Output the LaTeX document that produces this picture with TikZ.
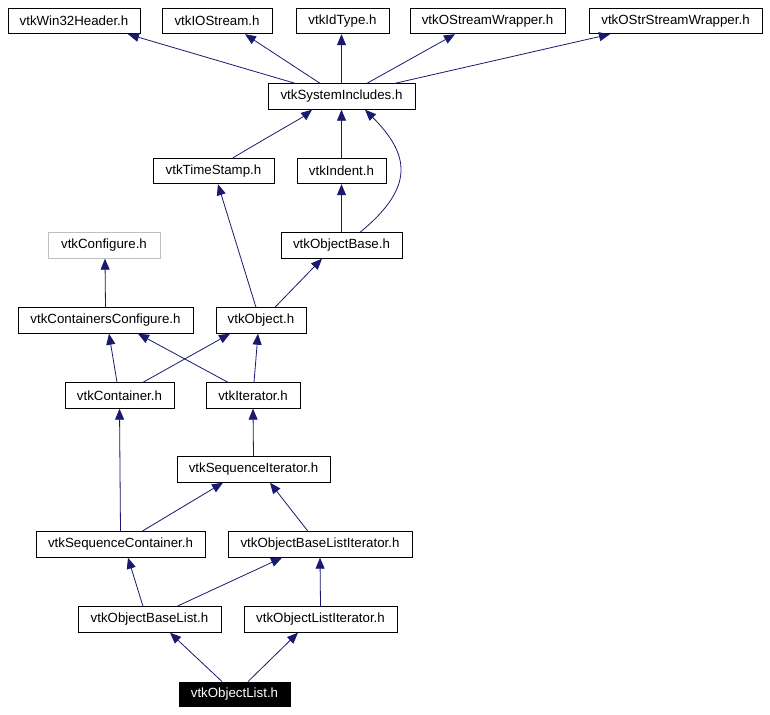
\documentclass[tikz,border=0pt]{standalone}
\usepackage{fontspec}
\setmainfont{Liberation Sans}
\usetikzlibrary{arrows.meta}
\definecolor{edgeblue}{HTML}{191970}
\definecolor{greyborder}{HTML}{BFBFBF}
\begin{document}
\begin{tikzpicture}[x=1pt,y=-1pt,
  filebox/.style={draw=black,line width=0.9pt,fill=white,inner sep=0pt,minimum height=25.5pt,
    font=\fontsize{13.3}{15}\selectfont,text=black},
  greybox/.style={filebox,draw=greyborder},
  mainbox/.style={filebox,fill=black,text=white},
  dep/.style={draw=edgeblue,line width=0.8pt,-{Triangle[length=11pt,width=9pt,fill=edgeblue]}},
  every node/.append style={anchor=center}]
\useasboundingbox (0,0) rectangle (770,714);
% row 1
\node[filebox,minimum width=132pt] (win32) at (74,21) {vtkWin32Header.h};
\node[filebox,minimum width=110pt] (iostream) at (217,21) {vtkIOStream.h};
\node[filebox,minimum width=93pt] (idtype) at (342.5,21) {vtkIdType.h};
\node[filebox,minimum width=155pt] (ostream) at (487.5,21) {vtkOStreamWrapper.h};
\node[filebox,minimum width=173pt] (ostrstream) at (675.5,21) {vtkOStrStreamWrapper.h};
% row 2
\node[filebox,minimum width=147pt] (sysinc) at (341.5,96.5) {vtkSystemIncludes.h};
% row 3
\node[filebox,minimum width=121pt] (timestamp) at (213.5,171) {vtkTimeStamp.h};
\node[filebox,minimum width=89pt] (indent) at (341.5,171) {vtkIndent.h};
% row 4
\node[greybox,minimum width=112pt] (configure) at (104,245.5) {vtkConfigure.h};
\node[filebox,minimum width=121pt] (objectbase) at (341.5,245.5) {vtkObjectBase.h};
% row 5
\node[filebox,minimum width=175pt] (contconf) at (105.5,320.5) {vtkContainersConfigure.h};
\node[filebox,minimum width=90pt] (object) at (261,320.5) {vtkObject.h};
% row 6
\node[filebox,minimum width=109pt] (container) at (119.5,395.5) {vtkContainer.h};
\node[filebox,minimum width=94pt] (iterator) at (253,395.5) {vtkIterator.h};
% row 7
\node[filebox,minimum width=153pt] (seqiter) at (253.5,469.5) {vtkSequenceIterator.h};
% row 8
\node[filebox,minimum width=169pt] (seqcont) at (120.5,544.5) {vtkSequenceContainer.h};
\node[filebox,minimum width=184pt] (oblistiter) at (320,544.5) {vtkObjectBaseListIterator.h};
% row 9
\node[filebox,minimum width=143pt] (oblist) at (149.5,619.5) {vtkObjectBaseList.h};
\node[filebox,minimum width=153pt] (olistiter) at (320.5,619.5) {vtkObjectListIterator.h};
% row 10
\node[mainbox,minimum width=111pt,minimum height=24pt] (olist) at (234.5,694) {vtkObjectList.h};

% edges
\draw[dep] ([xshift=-46.5pt]sysinc.north) -- ([xshift=54pt]win32.south);
\draw[dep] ([xshift=-21.5pt]sysinc.north) -- ([xshift=28pt]iostream.south);
\draw[dep] (sysinc.north) -- ([xshift=-1pt]idtype.south);
\draw[dep] ([xshift=25.5pt]sysinc.north) -- ([xshift=-32.5pt]ostream.south);
\draw[dep] ([xshift=53.5pt]sysinc.north) -- ([xshift=-65.5pt]ostrstream.south);
\draw[dep] ([xshift=19.5pt]timestamp.north) .. controls +(30,-18) and +(-10,8) .. ([xshift=-29.5pt]sysinc.south);
\draw[dep] (indent.north) -- (sysinc.south);
\draw[dep] ([xshift=18.5pt]objectbase.north) .. controls +(55,-45) and +(45,45) .. ([xshift=23.5pt]sysinc.south);
\draw[dep] (objectbase.north) -- (indent.south);
\draw[dep] (contconf.north) -- ([xshift=1pt]configure.south);
\draw[dep] ([xshift=-5pt]object.north) -- ([xshift=4.5pt]timestamp.south);
\draw[dep] ([xshift=14pt]object.north) -- ([xshift=-19.5pt]objectbase.south);
\draw[dep] ([xshift=-2.5pt]container.north) -- ([xshift=3.5pt]contconf.south);
\draw[dep] ([xshift=23.5pt]container.north) -- ([xshift=-31pt]object.south);
\draw[dep] ([xshift=-25pt]iterator.north) -- ([xshift=32.5pt]contconf.south);
\draw[dep] ([xshift=1pt]iterator.north) -- ([xshift=-3pt]object.south);
\draw[dep] (seqiter.north) -- (iterator.south);
\draw[dep] (seqcont.north) -- (container.south);
\draw[dep] ([xshift=21.5pt]seqcont.north) -- ([xshift=-30.5pt]seqiter.south);
\draw[dep] ([xshift=-12pt]oblistiter.north) -- ([xshift=16.5pt]seqiter.south);
\draw[dep] ([xshift=-6.5pt]oblist.north) -- ([xshift=7.5pt]seqcont.south);
\draw[dep] ([xshift=27.5pt]oblist.north) -- ([xshift=-38pt]oblistiter.south);
\draw[dep] (olistiter.north) -- (oblistiter.south);
\draw[dep] ([xshift=-12.5pt]olist.north) -- ([xshift=20.5pt]oblist.south);
\draw[dep] ([xshift=13.5pt]olist.north) -- ([xshift=-22.5pt]olistiter.south);
\end{tikzpicture}
\end{document}
